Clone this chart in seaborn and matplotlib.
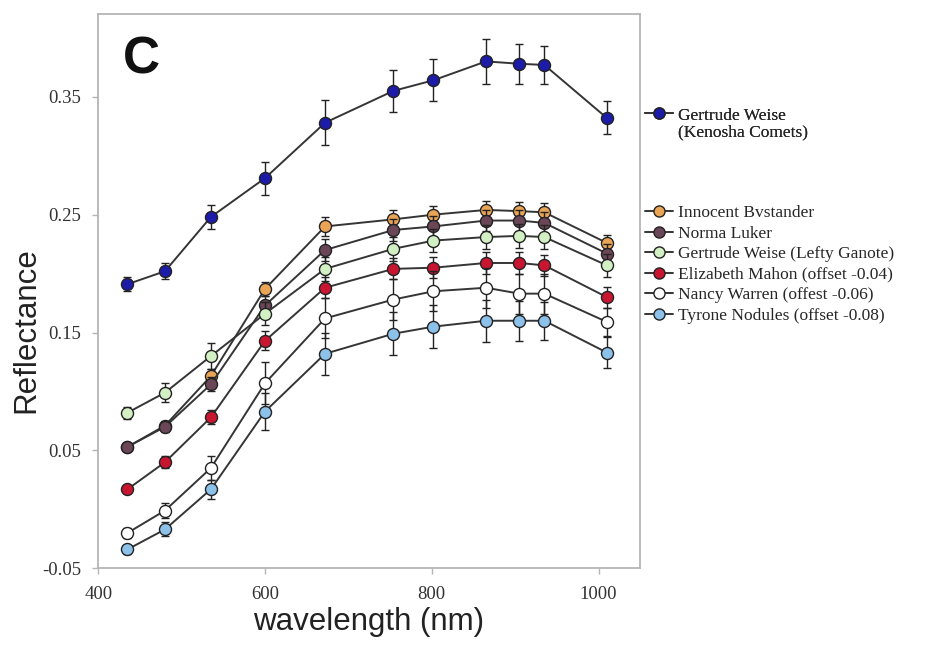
import matplotlib
matplotlib.use("Agg")
import matplotlib.pyplot as plt
from matplotlib.lines import Line2D
import pandas as pd
import seaborn as sns

wavelength = [435, 480, 535, 600, 672, 754, 802, 865, 905, 935, 1010]

kenosha = [0.191, 0.202, 0.248, 0.281, 0.328, 0.355, 0.364, 0.380, 0.378, 0.377, 0.332]
kenosha_err = [0.006, 0.007, 0.010, 0.014, 0.019, 0.018, 0.018, 0.019, 0.017, 0.016, 0.014]
innocent = [0.053, 0.071, 0.113, 0.187, 0.240, 0.246, 0.250, 0.254, 0.253, 0.252, 0.226]
innocent_err = [0.003, 0.004, 0.006, 0.006, 0.008, 0.008, 0.007, 0.008, 0.008, 0.008, 0.007]
norma = [0.053, 0.070, 0.106, 0.173, 0.220, 0.237, 0.240, 0.245, 0.245, 0.243, 0.217]
norma_err = [0.003, 0.004, 0.006, 0.008, 0.009, 0.009, 0.009, 0.009, 0.009, 0.009, 0.008]
lefty = [0.082, 0.099, 0.130, 0.166, 0.204, 0.221, 0.228, 0.231, 0.232, 0.231, 0.207]
lefty_err = [0.005, 0.008, 0.011, 0.010, 0.010, 0.010, 0.010, 0.010, 0.010, 0.010, 0.010]
mahon = [0.017, 0.040, 0.078, 0.143, 0.188, 0.204, 0.205, 0.209, 0.209, 0.207, 0.180]
mahon_err = [0.003, 0.005, 0.006, 0.008, 0.009, 0.009, 0.009, 0.009, 0.009, 0.009, 0.009]
warren = [-0.020, -0.001, 0.035, 0.107, 0.162, 0.178, 0.185, 0.188, 0.183, 0.183, 0.159]
warren_err = [0.004, 0.006, 0.010, 0.018, 0.017, 0.017, 0.017, 0.017, 0.017, 0.017, 0.012]
tyrone = [-0.034, -0.017, 0.017, 0.083, 0.132, 0.149, 0.155, 0.160, 0.160, 0.160, 0.133]
tyrone_err = [0.004, 0.006, 0.008, 0.016, 0.018, 0.018, 0.018, 0.018, 0.017, 0.016, 0.013]

labels = ["Gertrude Weise (Kenosha Comets)", "Innocent Bvstander", "Norma Luker",
          "Gertrude Weise (Lefty Ganote)", "Elizabeth Mahon (offset -0.04)",
          "Nancy Warren (offest -0.06)", "Tyrone Nodules (offset -0.08)"]
values = [kenosha, innocent, norma, lefty, mahon, warren, tyrone]
errors = [kenosha_err, innocent_err, norma_err, lefty_err, mahon_err, warren_err, tyrone_err]
fills = ["#1c1ca8", "#e9a555", "#6a4657", "#d3f0c4", "#c81631", "#ffffff", "#8cc1ea"]

rows = []
for lab, v, e in zip(labels, values, errors):
    for w, y, s in zip(wavelength, v, e):
        rows.append({"series": lab, "wavelength": w, "reflectance": y, "err": s})
df = pd.DataFrame(rows)

sns.set_theme(style="white")
serif = ["Liberation Serif", "DejaVu Serif"]
sans = ["Liberation Sans", "DejaVu Sans"]

fig = plt.figure(figsize=(9.36, 6.48), dpi=100)
ax = fig.add_axes([0.105, 0.123, 0.579, 0.855])

line_col = "#353535"
for i, (lab, col) in enumerate(zip(labels, fills)):
    sub = df[df["series"] == lab]
    z = 3 + i
    sns.lineplot(data=sub, x="wavelength", y="reflectance", color=line_col,
                 linewidth=1.4, ax=ax, zorder=z, legend=False)
    ax.errorbar(sub["wavelength"], sub["reflectance"], yerr=sub["err"], fmt="none",
                ecolor="#222222", elinewidth=1.0, capsize=3, capthick=1.0, zorder=z)
    sns.scatterplot(data=sub, x="wavelength", y="reflectance", color=col,
                    edgecolor="#222222", linewidth=1.0, s=75, ax=ax, zorder=z + 0.5,
                    legend=False)

ax.set_xlim(400, 1050)
ax.set_ylim(-0.05, 0.42)
ax.set_xticks([400, 600, 800, 1000])
ax.set_yticks([-0.05, 0.05, 0.15, 0.25, 0.35])
ax.set_yticklabels(["-0.05", "0.05", "0.15", "0.25", "0.35"])
for sp in ax.spines.values():
    sp.set_color("#b5b5b5")
    sp.set_linewidth(1.3)
ax.tick_params(axis="both", which="major", direction="out", length=4, width=1,
               color="#b5b5b5", labelsize=13.5, labelcolor="#333333",
               left=True, bottom=True)
ax.tick_params(axis="x", pad=9)
ax.tick_params(axis="y", pad=8)
for t in ax.get_xticklabels() + ax.get_yticklabels():
    t.set_family(serif)

ax.set_xlabel("wavelength (nm)", fontsize=22.5, family=sans, color="#222222")
ax.set_ylabel("Reflectance", fontsize=22.5, family=sans, color="#222222")
ax.xaxis.set_label_coords(0.498, -0.07)
ax.yaxis.set_label_coords(-0.105, 0.43)
ax.text(0.046, 0.962, "C", transform=ax.transAxes, fontsize=37, fontweight="bold",
        family=sans, va="top", ha="left", color="#111111")

def handle(col):
    return Line2D([0], [0], color=line_col, lw=1.4, marker="o", markersize=8,
                  markerfacecolor=col, markeredgecolor="#222222", markeredgewidth=1.0)

blank = Line2D([], [], linestyle="none")
leg1 = fig.legend([handle(fills[0]), blank], ["Gertrude Weise", "(Kenosha Comets)"],
                  loc="upper left", bbox_to_anchor=(0.682, 0.845), frameon=False,
                  prop={"family": serif, "size": 12.5}, handlelength=1.6,
                  handletextpad=0.3, labelspacing=0.05, borderaxespad=0)
fig.add_artist(leg1)
fig.legend([handle(c) for c in fills[1:]], labels[1:], loc="upper left",
           bbox_to_anchor=(0.682, 0.694), frameon=False,
           prop={"family": serif, "size": 12.5}, handlelength=1.6,
           handletextpad=0.3, labelspacing=0.25, borderaxespad=0)

plt.savefig("out.png", dpi=100)
plt.close(fig)
